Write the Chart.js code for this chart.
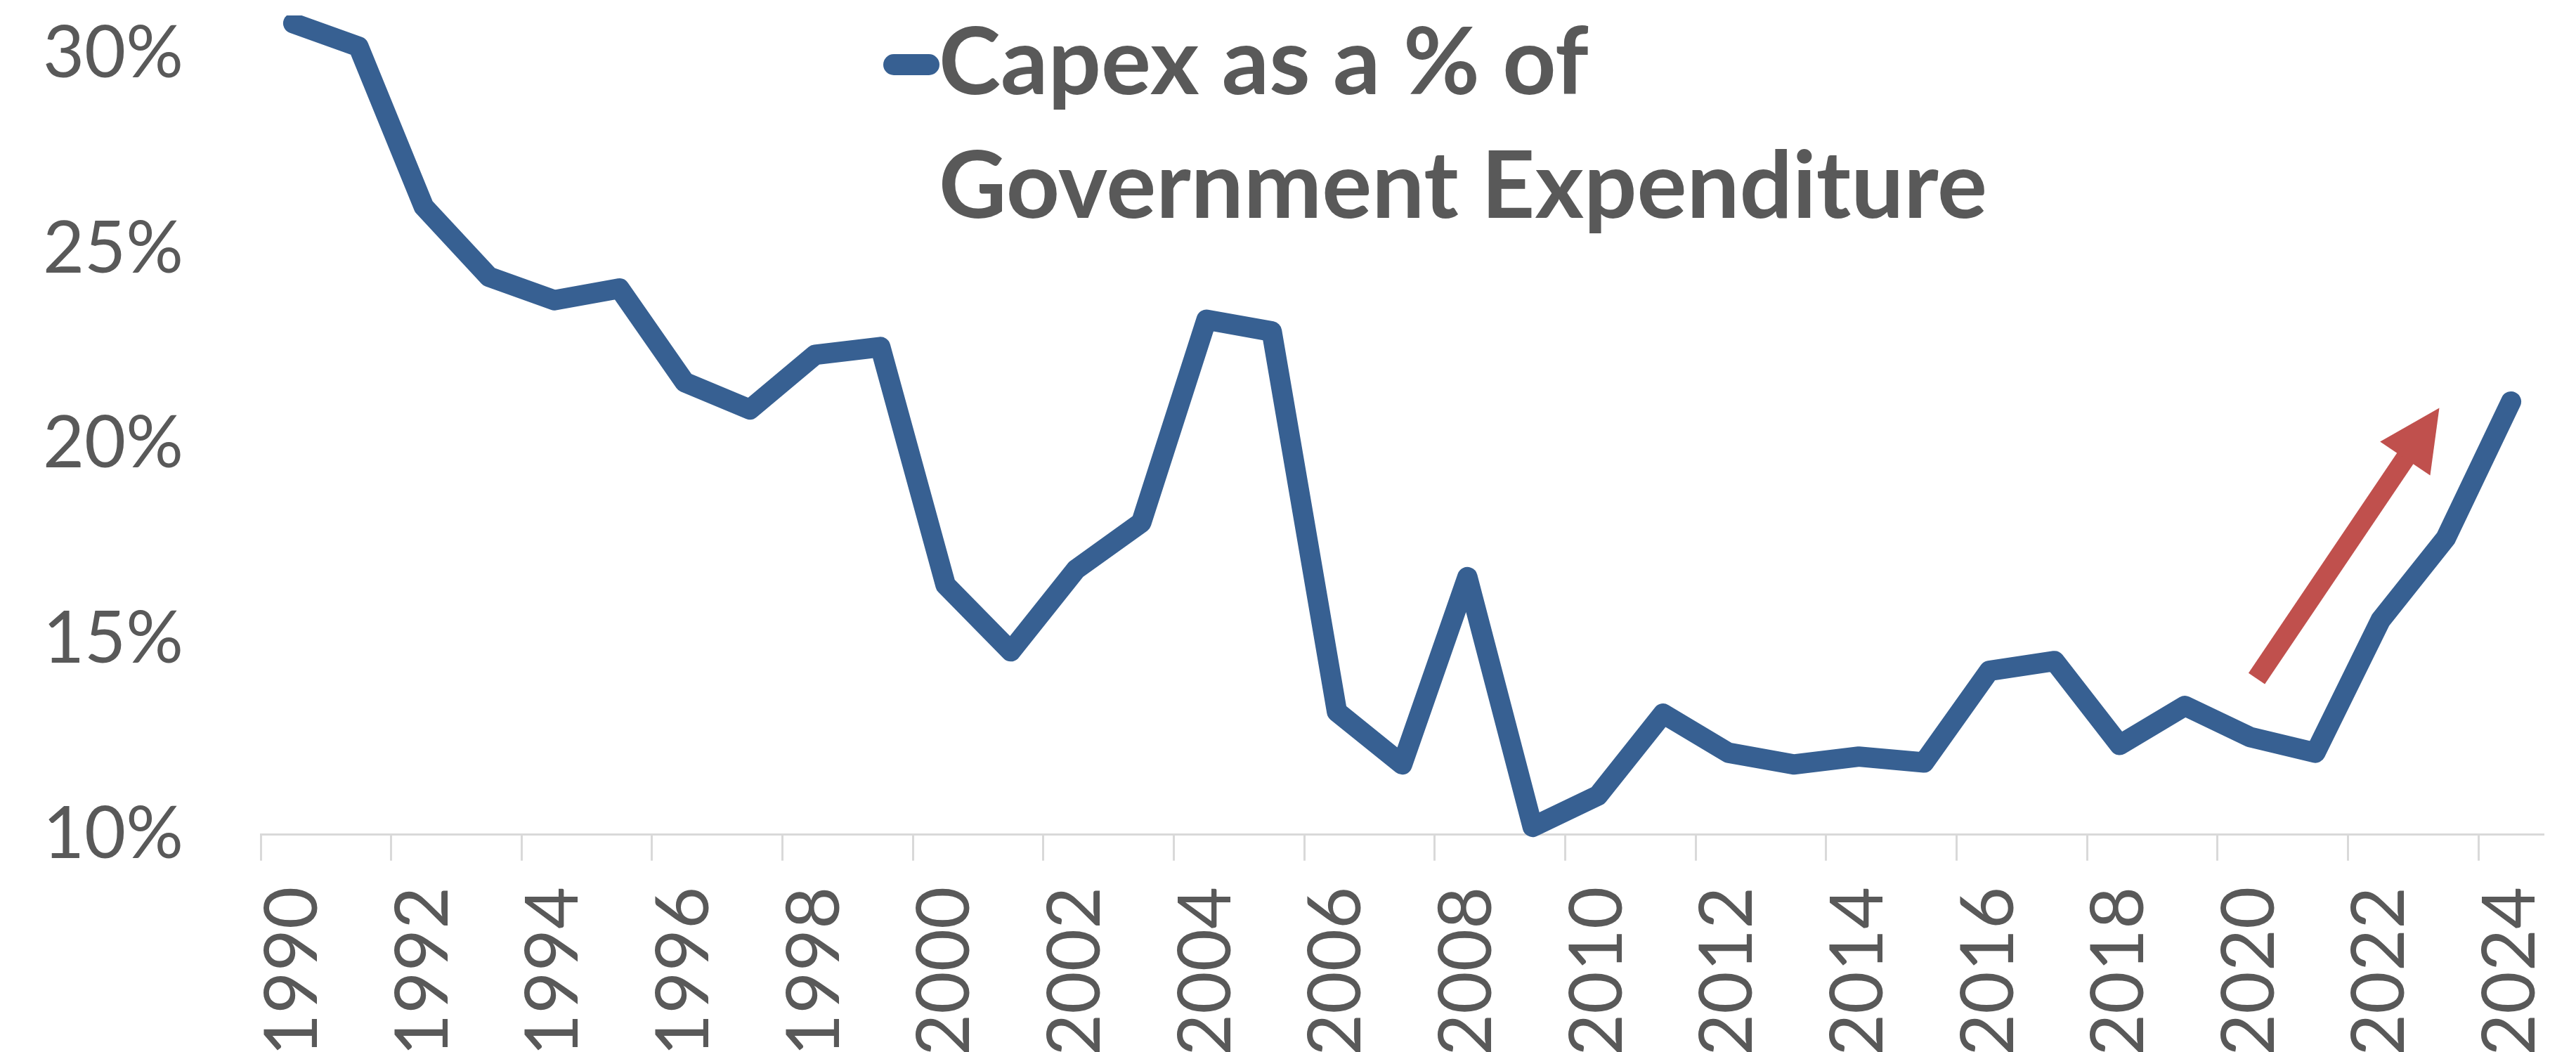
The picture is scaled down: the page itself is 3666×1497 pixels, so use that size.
<!DOCTYPE html>
<html>
<head>
<meta charset="utf-8">
<script src="https://cdn.jsdelivr.net/npm/chart.js@4.4.1/dist/chart.umd.min.js"></script>
<style>
  html, body { margin: 0; padding: 0; background: #ffffff; overflow: hidden; }
  canvas { display: block; }
</style>
</head>
<body>
<canvas id="c" width="3666" height="1497"></canvas>
<script>
// ---- data ----
const years = [1990,1991,1992,1993,1994,1995,1996,1997,1998,1999,
               2000,2001,2002,2003,2004,2005,2006,2007,2008,2009,
               2010,2011,2012,2013,2014,2015,2016,2017,2018,2019,
               2020,2021,2022,2023,2024];
const capexShare = [30.8,30.2,26.1,24.3,23.7,24.0,21.6,20.9,22.3,22.5,
                    16.4,14.7,16.8,18.0,23.2,22.9,13.15,11.8,16.6,10.2,
                    11.0,13.1,12.1,11.8,12.0,11.85,14.2,14.45,12.3,13.3,
                    12.5,12.1,15.5,17.6,21.1];
const yTickValues = [10, 15, 20, 25, 30];
const seriesLabel = ['Capex as a % of', 'Government Expenditure'];

const TEXT = '#595959';
const LINE = '#376092';
const AXIS = '#D9D9D9';

const legendPlugin = {
  id: 'boxedLegend',
  afterDraw(chart, args, o) {
    const ctx = chart.ctx;
    ctx.save();
    ctx.strokeStyle = chart.data.datasets[0].borderColor;
    ctx.lineWidth = o.markerWidth;
    ctx.lineCap = 'round';
    ctx.beginPath();
    ctx.moveTo(o.markerX1, o.markerY);
    ctx.lineTo(o.markerX2, o.markerY);
    ctx.stroke();
    ctx.fillStyle = TEXT;
    ctx.font = o.font;
    ctx.textBaseline = 'alphabetic';
    ctx.textAlign = 'left';
    const lines = chart.data.datasets[0].legendLines;
    lines.forEach((t, i) => ctx.fillText(t, o.textX, o.baseline + i * o.lineGap));
    ctx.restore();
  }
};

const arrowPlugin = {
  id: 'trendArrow',
  afterDatasetsDraw(chart, args, o) {
    const xs = chart.scales.x, ys = chart.scales.y, ctx = chart.ctx;
    const x1 = xs.getPixelForValue(o.fromYear - years[0]);
    const y1 = ys.getPixelForValue(o.fromValue);
    const x2 = xs.getPixelForValue(o.toYear - years[0]);
    const y2 = ys.getPixelForValue(o.toValue);
    const ang = Math.atan2(y2 - y1, x2 - x1);
    const bx = x2 - o.headLength * Math.cos(ang);
    const by = y2 - o.headLength * Math.sin(ang);
    ctx.save();
    ctx.strokeStyle = o.color;
    ctx.fillStyle = o.color;
    ctx.lineWidth = o.width;
    ctx.lineCap = 'butt';
    ctx.beginPath();
    ctx.moveTo(x1, y1);
    ctx.lineTo(bx + Math.cos(ang) * 2, by + Math.sin(ang) * 2);
    ctx.stroke();
    const hw = o.headWidth / 2;
    ctx.beginPath();
    ctx.moveTo(x2, y2);
    ctx.lineTo(bx + hw * Math.sin(ang), by - hw * Math.cos(ang));
    ctx.lineTo(bx - hw * Math.sin(ang), by + hw * Math.cos(ang));
    ctx.closePath();
    ctx.fill();
    ctx.restore();
  }
};

function build() {
  new Chart(document.getElementById('c'), {
    type: 'line',
    data: {
      labels: years.map(String),
      datasets: [{
        label: seriesLabel.join(' '),
        legendLines: seriesLabel,
        data: capexShare,
        borderColor: LINE,
        backgroundColor: LINE,
        borderWidth: 29,
        borderCapStyle: 'round',
        borderJoinStyle: 'round',
        pointRadius: 0,
        pointHoverRadius: 0,
        tension: 0,
        fill: false,
        clip: { left: 40, top: 0, right: 40, bottom: 40 }
      }]
    },
    options: {
      responsive: false,
      animation: false,
      devicePixelRatio: 1,
      events: [],
      layout: { padding: { top: 22, right: 46, left: 0, bottom: 0 } },
      plugins: {
        legend: { display: false },
        tooltip: { enabled: false },
        title: { display: false },
        boxedLegend: {
          markerX1: 1272, markerX2: 1322, markerY: 92, markerWidth: 30,
          textX: 1336, baseline: 134, lineGap: 176,
          font: 'bold 133px Lato'
        },
        trendArrow: {
          fromYear: 2020.1, fromValue: 14.0,
          toYear: 2022.9, toValue: 20.94,
          width: 28, headLength: 87, headWidth: 86, color: '#C0504D'
        }
      },
      scales: {
        x: {
          type: 'category',
          offset: true,
          afterFit(scale) {
            scale.height = 309.3;
            scale.paddingLeft = 0; scale.paddingRight = 0;
            scale.paddingTop = 0; scale.paddingBottom = 0;
          },
          border: { display: true, color: AXIS, width: 3 },
          grid: {
            display: true,
            offset: true,
            drawOnChartArea: false,
            drawTicks: true,
            tickLength: 37,
            tickWidth: 3,
            tickColor: (c) => (c.type === 'tick' && c.index % 2 === 0) ? AXIS : 'rgba(0,0,0,0)'
          },
          ticks: {
            autoSkip: false,
            minRotation: 90,
            maxRotation: 90,
            padding: 37,
            color: TEXT,
            font: { family: 'Lato', size: 104 },
            callback: (v, i) => (i % 2 === 0 ? String(years[i]) : '')
          }
        },
        y: {
          min: 10,
          max: 31,
          afterFit(scale) {
            scale.width = 371;
            scale.paddingLeft = 0; scale.paddingRight = 0;
            scale.paddingTop = 0; scale.paddingBottom = 0;
          },
          afterBuildTicks(scale) {
            scale.ticks = yTickValues.map(v => ({ value: v }));
          },
          border: { display: false },
          grid: { display: false, drawTicks: false },
          ticks: {
            padding: 110,
            color: TEXT,
            font: { family: 'Lato', size: 102 },
            callback: (v) => v + '%'
          }
        }
      }
    },
    plugins: [legendPlugin, arrowPlugin]
  });
}

if (document.fonts && document.fonts.load) {
  Promise.all([
    document.fonts.load('102px Lato'),
    document.fonts.load('bold 133px Lato')
  ]).then(build, build);
} else {
  build();
}
</script>
</body>
</html>
